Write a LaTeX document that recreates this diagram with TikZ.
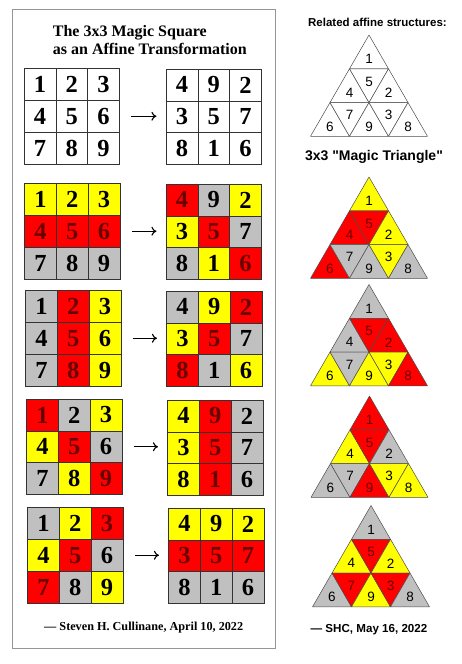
\documentclass[tikz,border=0pt]{standalone}
\usepackage{fontspec}
\setmainfont{Liberation Serif}
\setsansfont{Liberation Sans}[Ligatures=TeXOff]
\usetikzlibrary{arrows.meta}

\definecolor{fillY}{RGB}{255,255,0}
\definecolor{fillR}{RGB}{255,0,0}
\definecolor{fillG}{RGB}{192,192,192}
\definecolor{fillW}{RGB}{255,255,255}
\colorlet{textY}{black}
\definecolor{textR}{RGB}{105,0,0}
\colorlet{textG}{black}
\colorlet{textW}{black}
\definecolor{framegray}{RGB}{150,150,150}

\newcommand{\cellsz}{31.83}
\newcommand{\triu}{39}
\newcommand{\triv}{33.77}

\newcommand{\magicsq}[4]{%
  \foreach \nm/\cl [count=\k from 0] in {#4}{%
    \pgfmathtruncatemacro\cx{mod(\k,3)}%
    \pgfmathtruncatemacro\cy{div(\k,3)}%
    \node[cell, fill=fill\cl, text=text\cl] (#1-\nm)
      at ({#2+(\cx+0.5)*\cellsz}, {#3+(\cy+0.5)*\cellsz}) {\nm};
  }%
}

\newcommand{\magictri}[4]{%
  \foreach \nm/\cl [count=\k from 0] in {#4}{%
    \pgfmathsetmacro\dx{{0,-1,0,1,-2,-1,0,1,2}[\k]}%
    \pgfmathsetmacro\ry{{0,1,1,1,2,2,2,2,2}[\k]}%
    \pgfmathsetmacro\tdir{{1,1,-1,1,1,-1,1,-1,1}[\k]}%
    \pgfmathsetmacro\tx{#2+\dx*\triu/2}%
    \pgfmathsetmacro\ty{#3+(\ry+0.5)*\triv}%
    \draw[tri, fill=fill\cl] ({\tx}, {\ty-(\tdir)*\triv/2})
      -- ({\tx-\triu/2}, {\ty+(\tdir)*\triv/2})
      -- ({\tx+\triu/2}, {\ty+(\tdir)*\triv/2}) -- cycle;
    \node[trinum, text=text\cl] (#1-\nm) at ({\tx}, {\ty+(\tdir)*\triv/6+1.5}) {\nm};
  }%
}

\begin{document}
\begin{tikzpicture}[x=1pt, y=-1pt,
    cell/.style={draw=black!80, line width=0.6pt, minimum size=\cellsz pt,
      inner sep=0pt, font=\bfseries\fontsize{24.5}{24.5}\selectfont},
    tri/.style={draw=black!70, line width=0.5pt, line join=round},
    trinum/.style={inner sep=0pt, font=\sffamily\fontsize{13.5}{13.5}\selectfont},
    arrow/.style={-{To[length=5pt,width=9pt]}, line width=1.1pt,
      shorten <=11.5pt, shorten >=9.3pt}]
    \useasboundingbox (0,0) rectangle (462,664);
    \draw [framegray, line width=0.8pt] (12,9.5) rectangle (275,648);

    \node [anchor=base west, inner sep=0pt, font=\bfseries\fontsize{16}{18}\selectfont]
        (title1) at (52.7,36) {The 3x3 Magic Square};
    \node [anchor=base west, inner sep=0pt, font=\bfseries\fontsize{16}{18}\selectfont]
        (title2) at (52.7,54) {as an Affine Transformation};

    \magicsq{L1}{24}{68.5}{1/W,2/W,3/W,4/W,5/W,6/W,7/W,8/W,9/W}
    \magicsq{R1}{166}{69}{4/W,9/W,2/W,3/W,5/W,7/W,8/W,1/W,6/W}
    \magicsq{L2}{24.5}{183.5}{1/Y,2/Y,3/Y,4/R,5/R,6/R,7/G,8/G,9/G}
    \magicsq{R2}{166}{184}{4/R,9/G,2/Y,3/Y,5/R,7/G,8/G,1/Y,6/R}
    \magicsq{L3}{25.5}{290.5}{1/G,2/R,3/Y,4/G,5/R,6/Y,7/G,8/R,9/Y}
    \magicsq{R3}{166.5}{291}{4/G,9/Y,2/R,3/Y,5/R,7/G,8/R,1/G,6/Y}
    \magicsq{L4}{26.5}{399}{1/R,2/G,3/Y,4/Y,5/R,6/G,7/G,8/Y,9/R}
    \magicsq{R4}{167.5}{400}{4/Y,9/R,2/G,3/Y,5/R,7/G,8/Y,1/R,6/G}
    \magicsq{L5}{27.5}{507.5}{1/G,2/Y,3/R,4/Y,5/R,6/G,7/R,8/G,9/Y}
    \magicsq{R5}{168.5}{508}{4/Y,9/Y,2/Y,3/R,5/R,7/R,8/G,1/G,6/G}

    \foreach \f in {1,...,5}
        \draw [arrow] (L\f-6.east) -- (L\f-6.east -| R\f-3.west);

    \node [anchor=base, inner sep=0pt, font=\bfseries\fontsize{12.2}{14}\selectfont]
        (author) at (143.7,630.5) {— Steven H. Cullinane, April 10, 2022};

    \node [anchor=base, inner sep=0pt, font=\sffamily\bfseries\fontsize{11.5}{13}\selectfont]
        (related) at (377.5,26) {Related affine structures:};
    \magictri{T1}{369}{35}{1/W,4/W,5/W,2/W,6/W,7/W,9/W,3/W,8/W}
    \node [anchor=base, inner sep=0pt, font=\sffamily\bfseries\fontsize{14}{16}\selectfont]
        (trihead) at (374,160) {3x3 "Magic Triangle"};
    \magictri{T2}{369}{177}{1/Y,4/R,5/R,2/Y,6/R,7/G,9/G,3/Y,8/G}
    \magictri{T3}{369}{284.5}{1/G,4/G,5/R,2/R,6/Y,7/G,9/Y,3/Y,8/R}
    \magictri{T4}{369.5}{396}{1/R,4/Y,5/R,2/G,6/G,7/G,9/R,3/Y,8/Y}
    \magictri{T5}{371}{505.5}{1/G,4/Y,5/R,2/Y,6/G,7/R,9/Y,3/R,8/G}
    \node [anchor=base, inner sep=0pt, font=\sffamily\bfseries\fontsize{11.6}{14}\selectfont]
        (sign) at (369,632.5) {— SHC, May 16, 2022};
\end{tikzpicture}
\end{document}
